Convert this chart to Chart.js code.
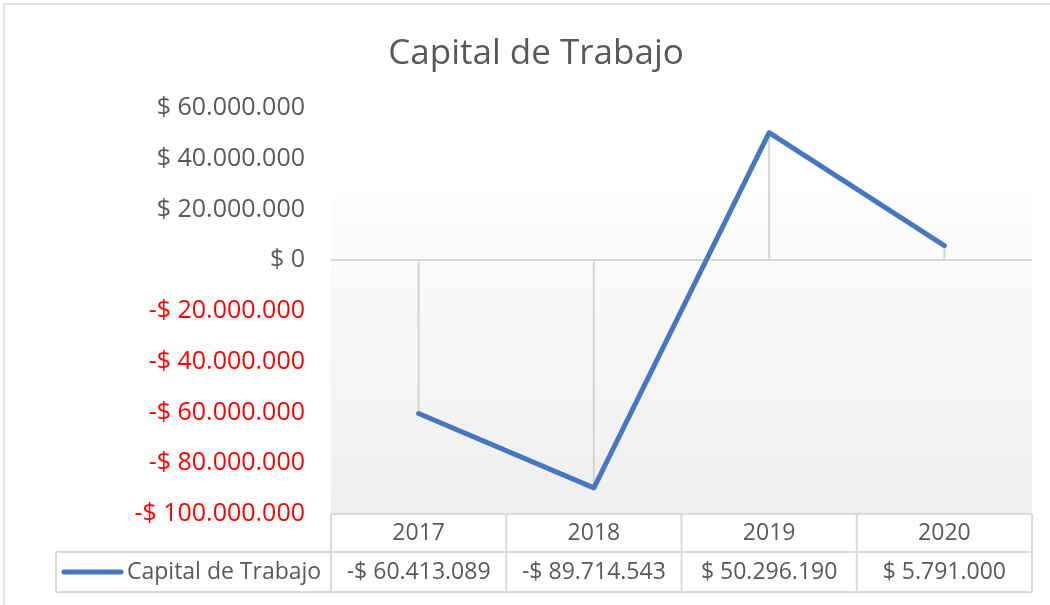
<!DOCTYPE html>
<html>
<head>
<meta charset="utf-8">
<script src="https://cdn.jsdelivr.net/npm/chart.js@4"></script>
<style>
  body { margin: 0; background: #fff; }
  #grafico { display: block; }
</style>
</head>
<body>
<canvas id="grafico" width="1050" height="605"></canvas>
<script>
// Datos del grafico
var anios = ['2017', '2018', '2019', '2020'];
var capitalTrabajo = [-60413089, -89714543, 50296190, 5791000];
var nombreSerie = 'Capital de Trabajo';
var ejeMin = -100000000;
var ejeMax = 60000000;
var ejePaso = 20000000;

var azul = '#4677bf';
var gris = '#595959';
var rojo = '#ff0000';
var fuente = "'Open Sans', sans-serif";

function formatoPeso(v) {
    var s = Math.abs(Math.round(v)).toString().replace(/\B(?=(\d{3})+(?!\d))/g, '.');
    return (v < 0 ? '-$ ' : '$ ') + s;
}

// fondo, borde y degradado del area
var fondo = {
    id: 'fondo',
    beforeDraw: function (chart) {
        var ctx = chart.ctx, a = chart.chartArea;
        ctx.save();
        ctx.fillStyle = '#ffffff';
        ctx.fillRect(0, 0, chart.width, chart.height);
        ctx.strokeStyle = '#d9d9d9';
        ctx.lineWidth = 1.5;
        ctx.beginPath();
        ctx.moveTo(4, chart.height);
        ctx.lineTo(4, 4);
        ctx.lineTo(chart.width, 4);
        ctx.stroke();
        var top = a.top + (a.bottom - a.top) * 0.214;
        var g = ctx.createLinearGradient(0, top, 0, a.bottom);
        g.addColorStop(0, '#fdfdfd');
        g.addColorStop(1, '#efefef');
        ctx.fillStyle = g;
        ctx.fillRect(a.left, top, a.right - a.left, a.bottom - top);
        ctx.restore();
    },
    beforeDatasetsDraw: function (chart) {
        // lineas de caida hasta el cero
        var ctx = chart.ctx, y = chart.scales.y;
        var meta = chart.getDatasetMeta(0);
        var y0 = y.getPixelForValue(0);
        ctx.save();
        ctx.strokeStyle = '#d4d4d4';
        ctx.lineWidth = 2;
        ctx.beginPath();
        meta.data.forEach(function (p) {
            ctx.moveTo(p.x, p.y);
            ctx.lineTo(p.x, y0);
        });
        ctx.stroke();
        ctx.restore();
    }
};

// tabla de datos debajo del grafico
var tablaDatos = {
    id: 'tablaDatos',
    afterDraw: function (chart) {
        var ctx = chart.ctx, a = chart.chartArea, x = chart.scales.x;
        var ancho = (a.right - a.left) / anios.length;
        var y0 = a.bottom, y1 = y0 + 38, y2 = y1 + 40;
        var izq = 56;
        ctx.save();
        ctx.strokeStyle = '#d9d9d9';
        ctx.lineWidth = 2;
        ctx.beginPath();
        ctx.moveTo(a.left, y0); ctx.lineTo(a.right, y0);
        ctx.moveTo(izq, y1); ctx.lineTo(a.right, y1);
        ctx.moveTo(izq, y2); ctx.lineTo(a.right, y2);
        ctx.moveTo(izq, y1); ctx.lineTo(izq, y2);
        for (var i = 0; i <= anios.length; i++) {
            var bx = a.left + i * ancho;
            ctx.moveTo(bx, y0);
            ctx.lineTo(bx, y2);
        }
        ctx.stroke();

        ctx.font = '23px ' + fuente;
        ctx.fillStyle = gris;
        ctx.textAlign = 'center';
        ctx.textBaseline = 'middle';
        for (var j = 0; j < anios.length; j++) {
            var cx = x.getPixelForValue(j);
            ctx.fillText(anios[j], cx, (y0 + y1) / 2);
            ctx.fillText(formatoPeso(capitalTrabajo[j]), cx, (y1 + y2) / 2);
        }

        // leyenda
        var ym = (y1 + y2) / 2;
        ctx.strokeStyle = azul;
        ctx.lineWidth = 5;
        ctx.lineCap = 'round';
        ctx.beginPath();
        ctx.moveTo(64, ym);
        ctx.lineTo(121, ym);
        ctx.stroke();
        ctx.textAlign = 'left';
        ctx.fillText(nombreSerie, 127, ym);
        ctx.restore();
    }
};

var grafico = new Chart(document.getElementById('grafico'), {
    type: 'line',
    data: {
        labels: anios,
        datasets: [{
            label: nombreSerie,
            data: capitalTrabajo,
            borderColor: azul,
            borderWidth: 5,
            pointRadius: 0,
            tension: 0,
            borderJoinStyle: 'round',
            borderCapStyle: 'round'
        }]
    },
    options: {
        responsive: false,
        animation: false,
        devicePixelRatio: 1,
        layout: {
            padding: { left: 40, right: 18, top: 0, bottom: 91 }
        },
        plugins: {
            legend: { display: false },
            tooltip: { enabled: false },
            title: {
                display: true,
                text: nombreSerie,
                color: gris,
                font: { family: fuente, size: 35, weight: 'normal' },
                padding: { top: 33, bottom: 33 }
            }
        },
        scales: {
            x: {
                display: false,
                offset: true
            },
            y: {
                min: ejeMin,
                max: ejeMax,
                afterFit: function (scale) { scale.width = 291; },
                border: { display: false },
                grid: {
                    drawTicks: false,
                    lineWidth: 2,
                    color: function (c) { return c.tick && c.tick.value === 0 ? '#d9d9d9' : 'transparent'; }
                },
                ticks: {
                    stepSize: ejePaso,
                    padding: 26,
                    font: { family: fuente, size: 25 },
                    color: function (c) { return c.tick && c.tick.value < 0 ? rojo : gris; },
                    callback: function (v) { return formatoPeso(v); }
                }
            }
        }
    },
    plugins: [fondo, tablaDatos]
});
</script>
</body>
</html>
